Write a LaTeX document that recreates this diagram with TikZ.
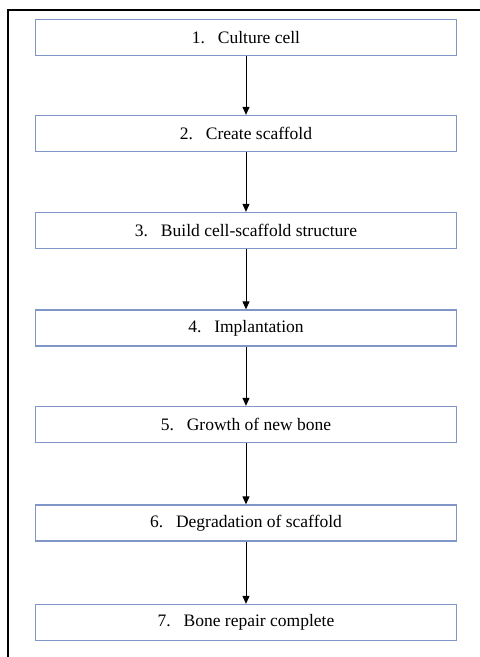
\documentclass[tikz,border=0pt]{standalone}
\usepackage{fontspec}
\setmainfont{Liberation Serif}
\usetikzlibrary{arrows.meta}
\definecolor{boxblue}{RGB}{128,150,200}
\newcommand{\stepno}[1]{\makebox[26pt][l]{#1.}}
\begin{document}
\begin{tikzpicture}
        [x=1pt,y=-1pt,every node/.style={draw=boxblue, line width=1.3pt, rectangle, minimum width=421pt, minimum height=36pt, inner sep=0pt, font=\fontsize{17.5}{20}\selectfont}]
      \useasboundingbox (0,0) rectangle (480,657);
      \draw[line width=2pt] (8,670) |- (490,10);

      \node (n1) at (246,37.5) {\stepno{1}Culture cell};
      \node (n2) at (246,133.5) {\stepno{2}Create scaffold};
      \node (n3) at (246,230.5) {\stepno{3}Build cell-scaffold structure};
      \node (n4) at (246,328) {\stepno{4}Implantation};
      \node (n5) at (246,424.5) {\stepno{5}Growth of new bone};
      \node (n6) at (246,523) {\stepno{6}Degradation of scaffold};
      \node (n7) at (246,622.5) {\stepno{7}Bone repair complete};

      \foreach \from/\to in {n1/n2, n2/n3, n3/n4, n4/n5, n5/n6, n6/n7}
        \draw[line width=1pt, -{Stealth[length=8pt,width=7pt,inset=0pt]}] (\from) -- (\to);
    \end{tikzpicture}
\end{document}
